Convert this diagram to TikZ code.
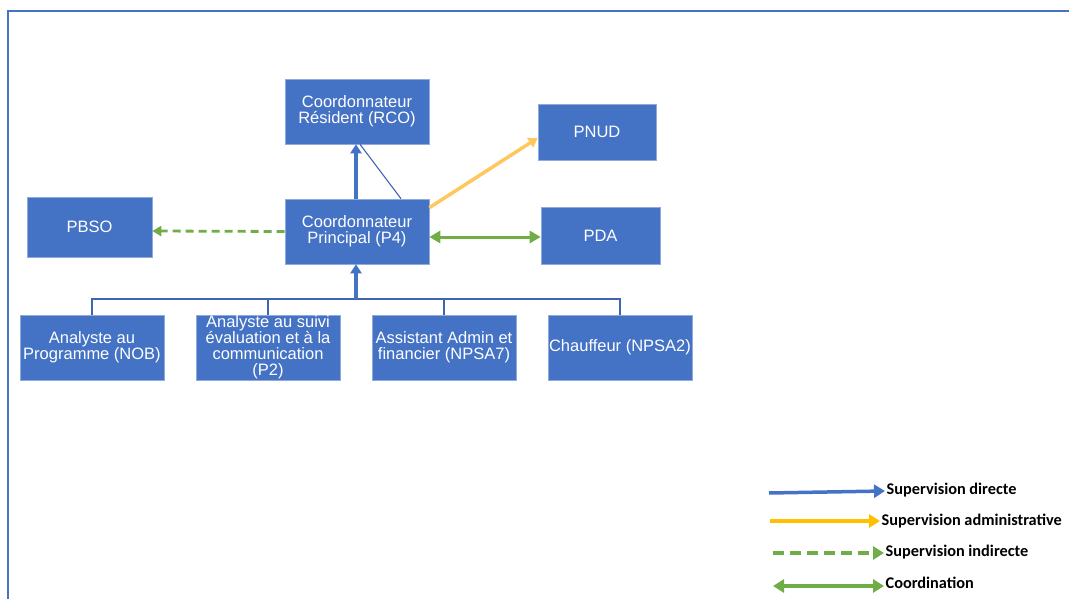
\documentclass[tikz,border=0pt]{standalone}
\usepackage{fontspec}
\setmainfont{Liberation Sans}
\newfontfamily\legfont{Carlito}
\usetikzlibrary{arrows.meta}
\definecolor{boxblue}{HTML}{4472C4}
\definecolor{lineblue}{HTML}{3F65B0}
\definecolor{admyellow}{HTML}{FFC85E}
\definecolor{legyellow}{HTML}{FFC000}
\definecolor{coordgreen}{HTML}{70AD47}
\tikzset{
  org/.style={rectangle, fill=boxblue, draw=boxblue!60!white, line width=0.6pt,
    text=white, align=center, font=\fontsize{16.5}{16}\selectfont, inner sep=0pt},
  thinlink/.style={draw=lineblue, line width=1.1pt},
  direct/.style={draw=boxblue, line width=3.5pt, -{Triangle[width=11pt,length=9pt]}},
  admin/.style={draw=admyellow, line width=3.5pt, -{Triangle[width=11pt,length=9pt]}},
  indirect/.style={draw=coordgreen, line width=2.8pt, dash pattern=on 8pt off 5pt, -{Triangle[width=10pt,length=9pt]}},
  coord/.style={draw=coordgreen, line width=3pt, {Triangle[width=12pt,length=11pt]}-{Triangle[width=12pt,length=11pt]}},
  legarrow/.style={line width=3.5pt, -{Triangle[width=13pt,length=11pt]}},
  legtext/.style={anchor=west, font=\legfont\bfseries\fontsize{16.3}{18}\selectfont, inner sep=1.5pt}
}
\begin{document}
\begin{tikzpicture}[x=1pt,y=-1pt]
\useasboundingbox (0,0) rectangle (1069,599);
% frame
\draw[draw=boxblue, line width=2pt] (8,599) -- (8,11) -- (1069,11);

% boxes
\node[org, minimum width=144pt, minimum height=65pt] (rco) at (357,111.5) {Coordonnateur\\Résident (RCO)};
\node[org, minimum width=144pt, minimum height=65pt] (cp) at (357,231.5) {Coordonnateur\\Principal (P4)};
\node[org, minimum width=118pt, minimum height=56pt] (pnud) at (597,132) {PNUD};
\node[org, minimum width=119pt, minimum height=57pt] (pda) at (600.5,235.5) {PDA};
\node[org, minimum width=125pt, minimum height=60pt] (pbso) at (89.5,227) {PBSO};

\node[org, minimum width=144pt, minimum height=65pt] (b1) at (92,347.5) {Analyste au\\Programme (NOB)};
\node[org, minimum width=144pt, minimum height=65pt] (b2) at (268,347.5) {Analyste au suivi\\évaluation et à la\\communication\\(P2)};
\node[org, minimum width=144pt, minimum height=65pt] (b3) at (444,347.5) {Assistant Admin et\\financier (NPSA7)};
\node[org, minimum width=144pt, minimum height=65pt] (b4) at (620,347.5) {Chauffeur (NPSA2)};

% tree
\coordinate (j) at (356,299);
\draw[thinlink] (b1.north) |- (j) -| (b4.north);
\draw[thinlink] (b2.north) |- (j);
\draw[thinlink] (b3.north) |- (j);
\draw[direct] (j) -- (cp.south -| j);

% CP to RCO
\draw[direct] (cp.north -| j) -- (rco.south -| j);
\draw[thinlink] ([xshift=44pt]cp.north) -- ([xshift=3pt]rco.south);

% CP to PNUD
\draw[admin] ([yshift=-9pt]cp.north east) -- ([yshift=-6pt]pnud.west);
% CP <-> PDA
\draw[coord] ([yshift=-5.5pt]cp.east) -- ([yshift=-1.5pt]pda.west);
% CP to PBSO
\draw[indirect] (cp.west) -- ([yshift=-4pt]pbso.east);

% legend
\node[legtext] (l1) at (885,490) {Supervision directe};
\node[legtext] (l2) at (880,521) {Supervision administrative};
\node[legtext] (l3) at (884,552) {Supervision indirecte};
\node[legtext] (l4) at (884,583) {Coordination};
\coordinate (s1) at (769,493);
\coordinate (s2) at (770,521);
\coordinate (s3) at (773,553);
\coordinate (s4) at (773,586);
\draw[legarrow, draw=boxblue] (s1) -- ([yshift=-1pt]l1.west);
\draw[legarrow, draw=legyellow] (s2) -- (s2 -| l2.west);
\draw[legarrow, draw=coordgreen, line width=3.5pt, dash pattern=on 11pt off 6pt] (s3) -- (s3 -| l3.west);
\draw[coord, line width=3.5pt, {Triangle[width=13pt,length=11pt]}-{Triangle[width=13pt,length=11pt]}] (s4) -- (s4 -| l4.west);
\end{tikzpicture}
\end{document}
